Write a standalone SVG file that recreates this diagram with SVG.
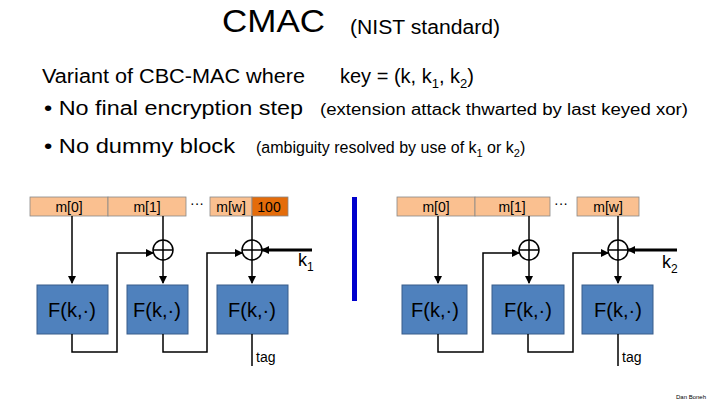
<svg xmlns="http://www.w3.org/2000/svg" width="720" height="405" viewBox="0 0 720 405">
<style>
text{font-family:"Liberation Sans",Arial,sans-serif;fill:#000}
.msg{fill:#fac090;stroke:#888;stroke-width:0.8}
.pad{fill:#e46c0a;stroke:#888;stroke-width:0.8}
.mt{font-size:14px;text-anchor:middle}
.f{fill:#4f81bd;stroke:#385d8a;stroke-width:1}
.ft{font-size:20px;text-anchor:middle}
.ln{fill:none;stroke:#000;stroke-width:1.5}
.xor{fill:#fff;stroke:#000;stroke-width:1.5}
</style>
<defs><marker id="a" markerWidth="8" markerHeight="8" refX="7" refY="4" orient="auto" markerUnits="userSpaceOnUse"><path d="M0,0L8,4L0,8z" fill="#000"/></marker></defs>
<text x="222" y="32" font-size="32" textLength="103" lengthAdjust="spacingAndGlyphs">CMAC</text>
<text x="350" y="34" font-size="20" textLength="150" lengthAdjust="spacingAndGlyphs">(NIST standard)</text>
<text x="42" y="83" font-size="20" textLength="263" lengthAdjust="spacingAndGlyphs">Variant of CBC-MAC where</text>
<text x="340" y="83" font-size="20">key = (k, k<tspan font-size="13" dy="5">1</tspan><tspan dy="-5">, k</tspan><tspan font-size="13" dy="5">2</tspan><tspan dy="-5">)</tspan></text>
<text x="44" y="115" font-size="20" textLength="259" lengthAdjust="spacingAndGlyphs">• No final encryption step</text>
<text x="320" y="115" font-size="16" textLength="368" lengthAdjust="spacingAndGlyphs">(extension attack thwarted by last keyed xor)</text>
<text x="44" y="153" font-size="20" textLength="191" lengthAdjust="spacingAndGlyphs">• No dummy block</text>
<text x="256" y="153" font-size="16">(ambiguity resolved by use of k<tspan font-size="11" dy="4">1</tspan><tspan dy="-4"> or k</tspan><tspan font-size="11" dy="4">2</tspan><tspan dy="-4">)</tspan></text>
<rect x="352" y="197" width="5" height="104" fill="#0000cc"/>
<g id="left-msg">
<rect class="msg" x="30" y="197" width="78" height="19"/><text class="mt" x="69" y="212">m[0]</text>
<rect class="msg" x="108" y="197" width="78" height="19"/><text class="mt" x="147" y="212">m[1]</text>
<text x="190" y="208" font-size="14">···</text>
<rect class="msg" x="210" y="197" width="42" height="19"/><text class="mt" x="231" y="212">m[w]</text>
<rect class="pad" x="252" y="197" width="36" height="19"/><text class="mt" x="269" y="212">100</text>
</g>
<g id="left-F1"><rect class="f" x="37" y="285" width="71" height="49"/><text class="ft" x="72" y="317">F(k,·)</text></g>
<g id="left-F2"><rect class="f" x="127" y="285" width="61" height="49"/><text class="ft" x="157" y="317">F(k,·)</text></g>
<g id="left-F3"><rect class="f" x="217" y="285" width="71" height="49"/><text class="ft" x="252" y="317">F(k,·)</text></g>
<g id="right-msg">
<rect class="msg" x="397" y="197" width="78" height="19"/><text class="mt" x="436" y="212">m[0]</text>
<rect class="msg" x="475" y="197" width="75" height="19"/><text class="mt" x="512" y="212">m[1]</text>
<text x="554" y="208" font-size="14">···</text>
<rect class="msg" x="577" y="197" width="62" height="19"/><text class="mt" x="608" y="212">m[w]</text>
</g>
<g id="right-F1"><rect class="f" x="402" y="285" width="65" height="49"/><text class="ft" x="435" y="317">F(k,·)</text></g>
<g id="right-F2"><rect class="f" x="492" y="285" width="72" height="49"/><text class="ft" x="528" y="317">F(k,·)</text></g>
<g id="right-F3"><rect class="f" x="582" y="285" width="71" height="49"/><text class="ft" x="618" y="317">F(k,·)</text></g>
<g id="connectors">
<path class="ln" d="M72 216V283" marker-end="url(#a)"/>
<path class="ln" d="M163 216V240"/>
<path class="ln" d="M163 260V283" marker-end="url(#a)"/>
<path class="ln" d="M72 334V352H117V253H153" marker-end="url(#a)"/>
<path class="ln" d="M252 216V240"/>
<path class="ln" d="M252 260V283" marker-end="url(#a)"/>
<path class="ln" d="M163 334V352H207V253H242" marker-end="url(#a)"/>
<path d="M312 250H262" stroke="#000" stroke-width="3" marker-end="url(#a)"/>
<path class="ln" d="M252 334V366"/>
<path class="ln" d="M438 216V283" marker-end="url(#a)"/>
<path class="ln" d="M529 216V240"/>
<path class="ln" d="M529 260V283" marker-end="url(#a)"/>
<path class="ln" d="M438 334V352H483V253H519" marker-end="url(#a)"/>
<path class="ln" d="M618 216V240"/>
<path class="ln" d="M618 260V283" marker-end="url(#a)"/>
<path class="ln" d="M528 334V352H573V253H608" marker-end="url(#a)"/>
<path d="M677 250H628" stroke="#000" stroke-width="3" marker-end="url(#a)"/>
<path class="ln" d="M618 334V366"/>
</g>
<g id="xors">
<circle class="xor" cx="163" cy="250" r="10"/><path class="ln" d="M153 250H173M163 240V260"/>
<circle class="xor" cx="252" cy="250" r="10"/><path class="ln" d="M242 250H262M252 240V260"/>
<circle class="xor" cx="529" cy="250" r="10"/><path class="ln" d="M519 250H539M529 240V260"/>
<circle class="xor" cx="618" cy="250" r="10"/><path class="ln" d="M608 250H628M618 240V260"/>
</g>
<text x="298" y="266" font-size="18">k<tspan font-size="12" dy="5">1</tspan></text>
<text x="662" y="268" font-size="18">k<tspan font-size="12" dy="5">2</tspan></text>
<text x="256" y="362" font-size="14">tag</text>
<text x="622" y="362" font-size="14">tag</text>
<text x="676" y="399" font-size="6">Dan Boneh</text>
</svg>
